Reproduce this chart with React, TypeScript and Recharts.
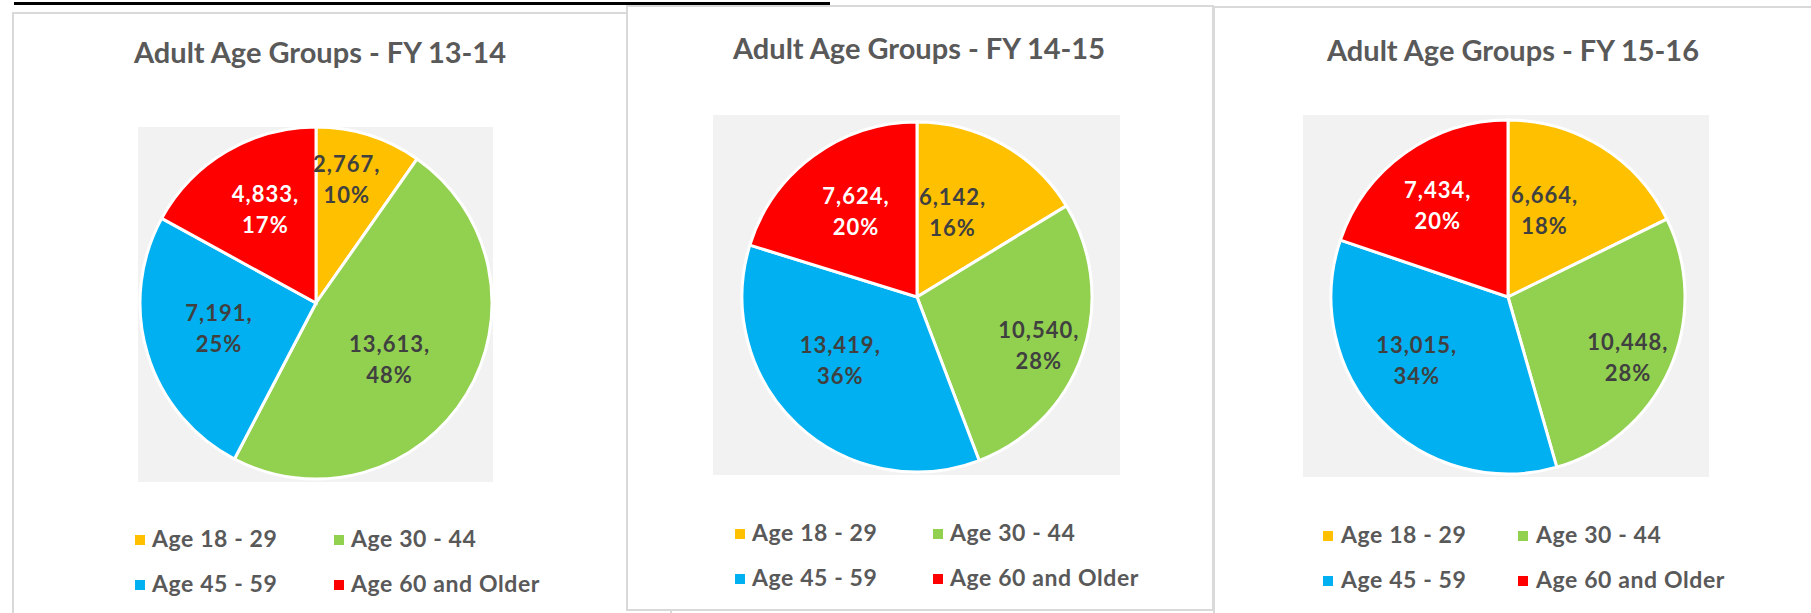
import React from 'react';
import { PieChart, Pie, Cell } from 'recharts';

// ---------- data ----------
const categories = ['Age 18 - 29', 'Age 30 - 44', 'Age 45 - 59', 'Age 60 and Older'];
const valuesFY1314 = [2767, 13613, 7191, 4833];
const valuesFY1415 = [6142, 10540, 13419, 7624];
const valuesFY1516 = [6664, 10448, 13015, 7434];
const chartTitles = [
  'Adult Age Groups - FY 13-14',
  'Adult Age Groups - FY 14-15',
  'Adult Age Groups - FY 15-16',
];

// ---------- styles ----------
const sliceColors = ['#FFC000', '#92D050', '#00B0F0', '#FF0000'];
const labelColors = ['#404040', '#404040', '#404040', '#FFFFFF'];
const FONT = 'Lato, "Open Sans", "DejaVu Sans", sans-serif';
const TITLE_COLOR = '#595959';

// largest-remainder rounding (the data labels sum to 100%)
function roundedPercents(values: number[]): number[] {
  const total = values.reduce((a, b) => a + b, 0);
  const raw = values.map((v) => (v / total) * 100);
  const floors = raw.map((r) => Math.floor(r));
  let left = 100 - floors.reduce((a, b) => a + b, 0);
  const order = raw
    .map((r, i) => ({ i, rem: r - Math.floor(r) }))
    .sort((a, b) => b.rem - a.rem);
  const out = [...floors];
  for (let k = 0; k < order.length && left > 0; k++, left--) out[order[k].i] += 1;
  return out;
}

type LabelPos = { f: number; da: number };
type Layout = {
  panel: { left: number; top: number; width: number; height: number };
  plot: { left: number; top: number; width: number; height: number };
  cx: number;
  cy: number;
  r: number;
  titleX: number;
  titleY: number;
  titleSize: number;
  legend: { x1: number; x2: number; y1: number; y2: number; size: number; sq: number; gap: number };
  labelPos: LabelPos[];
};

const layouts: Layout[] = [
  {
    panel: { left: 12, top: 12, width: 660, height: 640 },
    plot: { left: 138, top: 127, width: 355, height: 355 },
    cx: 316,
    cy: 303,
    r: 176,
    titleX: 320,
    titleY: 63,
    titleSize: 29,
    legend: { x1: 135, x2: 334, y1: 547, y2: 592, size: 23, sq: 10, gap: 17 },
    labelPos: [
      { f: 0.72, da: -3.5 },
      { f: 0.53, da: 6.6 },
      { f: 0.57, da: 2.0 },
      { f: 0.6, da: 2.0 },
    ],
  },
  {
    panel: { left: 626, top: 5, width: 588, height: 606 },
    plot: { left: 713, top: 115, width: 407, height: 360 },
    cx: 917,
    cy: 297,
    r: 175,
    titleX: 919,
    titleY: 59,
    titleSize: 29,
    legend: { x1: 735, x2: 933, y1: 541, y2: 586, size: 23, sq: 10, gap: 17 },
    labelPos: [
      { f: 0.52, da: -6.3 },
      { f: 0.75, da: 3 },
      { f: 0.57, da: 7.1 },
      { f: 0.6, da: 0.8 },
    ],
  },
  {
    panel: { left: 1213, top: 6, width: 640, height: 640 },
    plot: { left: 1303, top: 115, width: 406, height: 362 },
    cx: 1508,
    cy: 297,
    r: 177,
    titleX: 1513,
    titleY: 61,
    titleSize: 29,
    legend: { x1: 1323, x2: 1518, y1: 543, y2: 588, size: 23, sq: 10, gap: 18 },
    labelPos: [
      { f: 0.53, da: -9.0 },
      { f: 0.76, da: 3 },
      { f: 0.63, da: 8.6 },
      { f: 0.65, da: -2.0 },
    ],
  },
];

const seriesList = [valuesFY1314, valuesFY1415, valuesFY1516];

const makeLabel = (pos: LabelPos[], pcts: number[]) => (props: any) => {
  const { cx, cy, midAngle, outerRadius, index, value } = props;
  const RAD = Math.PI / 180;
  const p = pos[index];
  const ang = (midAngle - p.da) * RAD;
  const rr = outerRadius * p.f;
  const x = cx + rr * Math.cos(-ang);
  const y = cy + rr * Math.sin(-ang);
  return (
    <text
      x={x}
      y={y - 8}
      textAnchor="middle"
      fill={labelColors[index]}
      fontFamily={FONT}
      fontWeight={700}
      fontSize={22}
      letterSpacing={1}
    >
      <tspan x={x} y={y - 8}>
        {Number(value).toLocaleString('en-US')},
      </tspan>
      <tspan x={x} y={y + 23}>
        {pcts[index]}%
      </tspan>
    </text>
  );
};

function PiePanelChart({ idx }: { idx: number }) {
  const L = layouts[idx];
  const values = seriesList[idx];
  const data = categories.map((name, i) => ({ name, value: values[i] }));
  const pcts = roundedPercents(values);
  return (
    <div style={{ position: 'absolute', left: 0, top: 0, width: 1811, height: 613 }}>
      <PieChart width={1811} height={613} margin={{ top: 0, right: 0, bottom: 0, left: 0 }}>
        <Pie
          data={data}
          dataKey="value"
          nameKey="name"
          cx={L.cx}
          cy={L.cy}
          outerRadius={L.r}
          innerRadius={0}
          startAngle={90}
          endAngle={-270}
          stroke="#FFFFFF"
          strokeWidth={3}
          isAnimationActive={false}
          labelLine={false}
          label={makeLabel(L.labelPos, pcts)}
        >
          {data.map((d, i) => (
            <Cell key={d.name} fill={sliceColors[i]} />
          ))}
        </Pie>
      </PieChart>
    </div>
  );
}

export default function App() {
  return (
    <div
      style={{
        position: 'absolute',
        left: 0,
        top: 0,
        width: 1811,
        height: 613,
        background: '#FFFFFF',
        overflow: 'hidden',
      }}
    >
      {/* cut-off heading underline */}
      <div style={{ position: 'absolute', left: 14, top: 2, width: 816, height: 3, background: '#000' }} />

      {layouts.map((L, i) => (
        <div
          key={'panel' + i}
          style={{
            position: 'absolute',
            left: L.panel.left,
            top: L.panel.top,
            width: L.panel.width,
            height: L.panel.height,
            boxSizing: 'border-box',
            border: '2px solid #D9D9D9',
            background: '#FFFFFF',
          }}
        />
      ))}

      {layouts.map((L, i) => (
        <div
          key={'plot' + i}
          style={{
            position: 'absolute',
            left: L.plot.left,
            top: L.plot.top,
            width: L.plot.width,
            height: L.plot.height,
            background: '#F2F2F2',
          }}
        />
      ))}

      {layouts.map((_, i) => (
        <PiePanelChart key={'chart' + i} idx={i} />
      ))}

      <svg
        width={1811}
        height={613}
        style={{ position: 'absolute', left: 0, top: 0, pointerEvents: 'none' }}
      >
        {layouts.map((L, i) => (
          <g key={'txt' + i}>
            <text
              x={L.titleX}
              y={L.titleY}
              textAnchor="middle"
              fontFamily={FONT}
              fontWeight={700}
              fontSize={L.titleSize}
              fill={TITLE_COLOR}
            >
              {chartTitles[i]}
            </text>
            {categories.map((c, k) => {
              const col = k % 2;
              const row = Math.floor(k / 2);
              const x = col === 0 ? L.legend.x1 : L.legend.x2;
              const y = row === 0 ? L.legend.y1 : L.legend.y2;
              return (
                <g key={c}>
                  <rect
                    x={x}
                    y={y - 7 - L.legend.sq / 2}
                    width={L.legend.sq}
                    height={L.legend.sq}
                    fill={sliceColors[k]}
                  />
                  <text
                    x={x + L.legend.gap}
                    y={y}
                    fontFamily={FONT}
                    fontWeight={700}
                    fontSize={L.legend.size}
                    letterSpacing={0.6}
                    fill={TITLE_COLOR}
                  >
                    {c}
                  </text>
                </g>
              );
            })}
          </g>
        ))}
      </svg>
    </div>
  );
}
